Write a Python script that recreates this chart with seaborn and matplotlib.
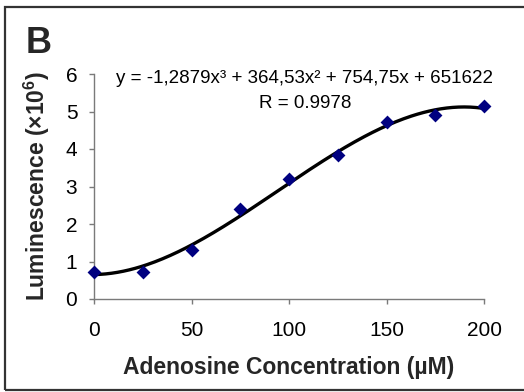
import matplotlib
matplotlib.use("Agg")
import matplotlib.pyplot as plt
import seaborn as sns
import numpy as np
import pandas as pd
from matplotlib.patches import Rectangle

# ---- data (luminescence in units of 10^6) ----
concentration = [0, 25, 50, 75, 100, 125, 150, 175, 200]
luminescence = [0.73, 0.71, 1.30, 2.39, 3.21, 3.83, 4.71, 4.92, 5.16]
# trend line coefficients as printed on the chart (raw luminescence units)
trend_coefficients = [-1.2879, 364.53, 754.75, 651622]
x_ticks = [0, 50, 100, 150, 200]
y_ticks = [0, 1, 2, 3, 4, 5, 6]
panel_label = "B"
equation_text = "y = -1,2879x³ + 364,53x² + 754,75x + 651622"
r_text = "R = 0.9978"
x_label = "Adenosine Concentration (µM)"
y_label = "Luminescence (×10$^{\\mathbf{6}}$)"

df = pd.DataFrame({"conc": concentration, "lum": luminescence})
x_fit = np.linspace(min(concentration), max(concentration), 200)
trend = pd.DataFrame({"conc": x_fit,
                      "lum": np.polyval(trend_coefficients, x_fit) / 1e6})

sns.set_style("white")
plt.rcParams["font.family"] = ["Liberation Sans", "DejaVu Sans"]
plt.rcParams["mathtext.fontset"] = "custom"
plt.rcParams["mathtext.rm"] = "Liberation Sans"
plt.rcParams["mathtext.bf"] = "Liberation Sans:bold"

fig = plt.figure(figsize=(5.24, 3.92), dpi=100)
ax = fig.add_axes([94 / 524, (392 - 299) / 392, (484 - 94) / 524, (299 - 74) / 392])

# cubic trend line
sns.lineplot(data=trend, x="conc", y="lum", color="black", lw=2.4,
             zorder=3, ax=ax)
# data points
sns.scatterplot(data=df, x="conc", y="lum", marker="D", s=50, color="#000080",
                edgecolor="#000080", linewidth=0, zorder=4, clip_on=False, ax=ax)

ax.set_xlim(0, 200)
ax.set_ylim(0, 6)
ax.set_xticks(x_ticks)
ax.set_yticks(y_ticks)
ax.set_xticklabels([str(v) for v in x_ticks])
ax.set_yticklabels([str(v) for v in y_ticks])

for s in ["top", "right"]:
    ax.spines[s].set_visible(False)
for s in ["left", "bottom"]:
    ax.spines[s].set_color("#7a7a7a")
    ax.spines[s].set_linewidth(1.0)

ax.tick_params(axis="both", which="major", direction="out", length=3.5, width=1.0,
               color="#7a7a7a", labelsize=15, labelcolor="black")
ax.tick_params(axis="x", pad=12, bottom=True)
ax.tick_params(axis="y", pad=8.5, left=True)

ax.set_xlabel(x_label, fontsize=16.5, fontweight="bold", labelpad=12)
ax.set_ylabel(y_label, fontsize=16.5, fontweight="bold", labelpad=10)

ax.text(0.541, 0.982, equation_text, transform=ax.transAxes, ha="center", va="center",
        fontsize=13.5, color="black")
ax.text(0.541, 0.871, r_text, transform=ax.transAxes, ha="center", va="center",
        fontsize=13.5, color="black")

fig.text(26 / 524, (392 - 53) / 392, panel_label, fontsize=26, fontweight="bold",
         ha="left", va="baseline")

fig.patches.append(Rectangle((5 / 524, 2 / 392), 1.2, (390 - 7) / 392,
                             transform=fig.transFigure, fill=False,
                             edgecolor="#333333", linewidth=1.6))

fig.savefig("out.png", dpi=100)
